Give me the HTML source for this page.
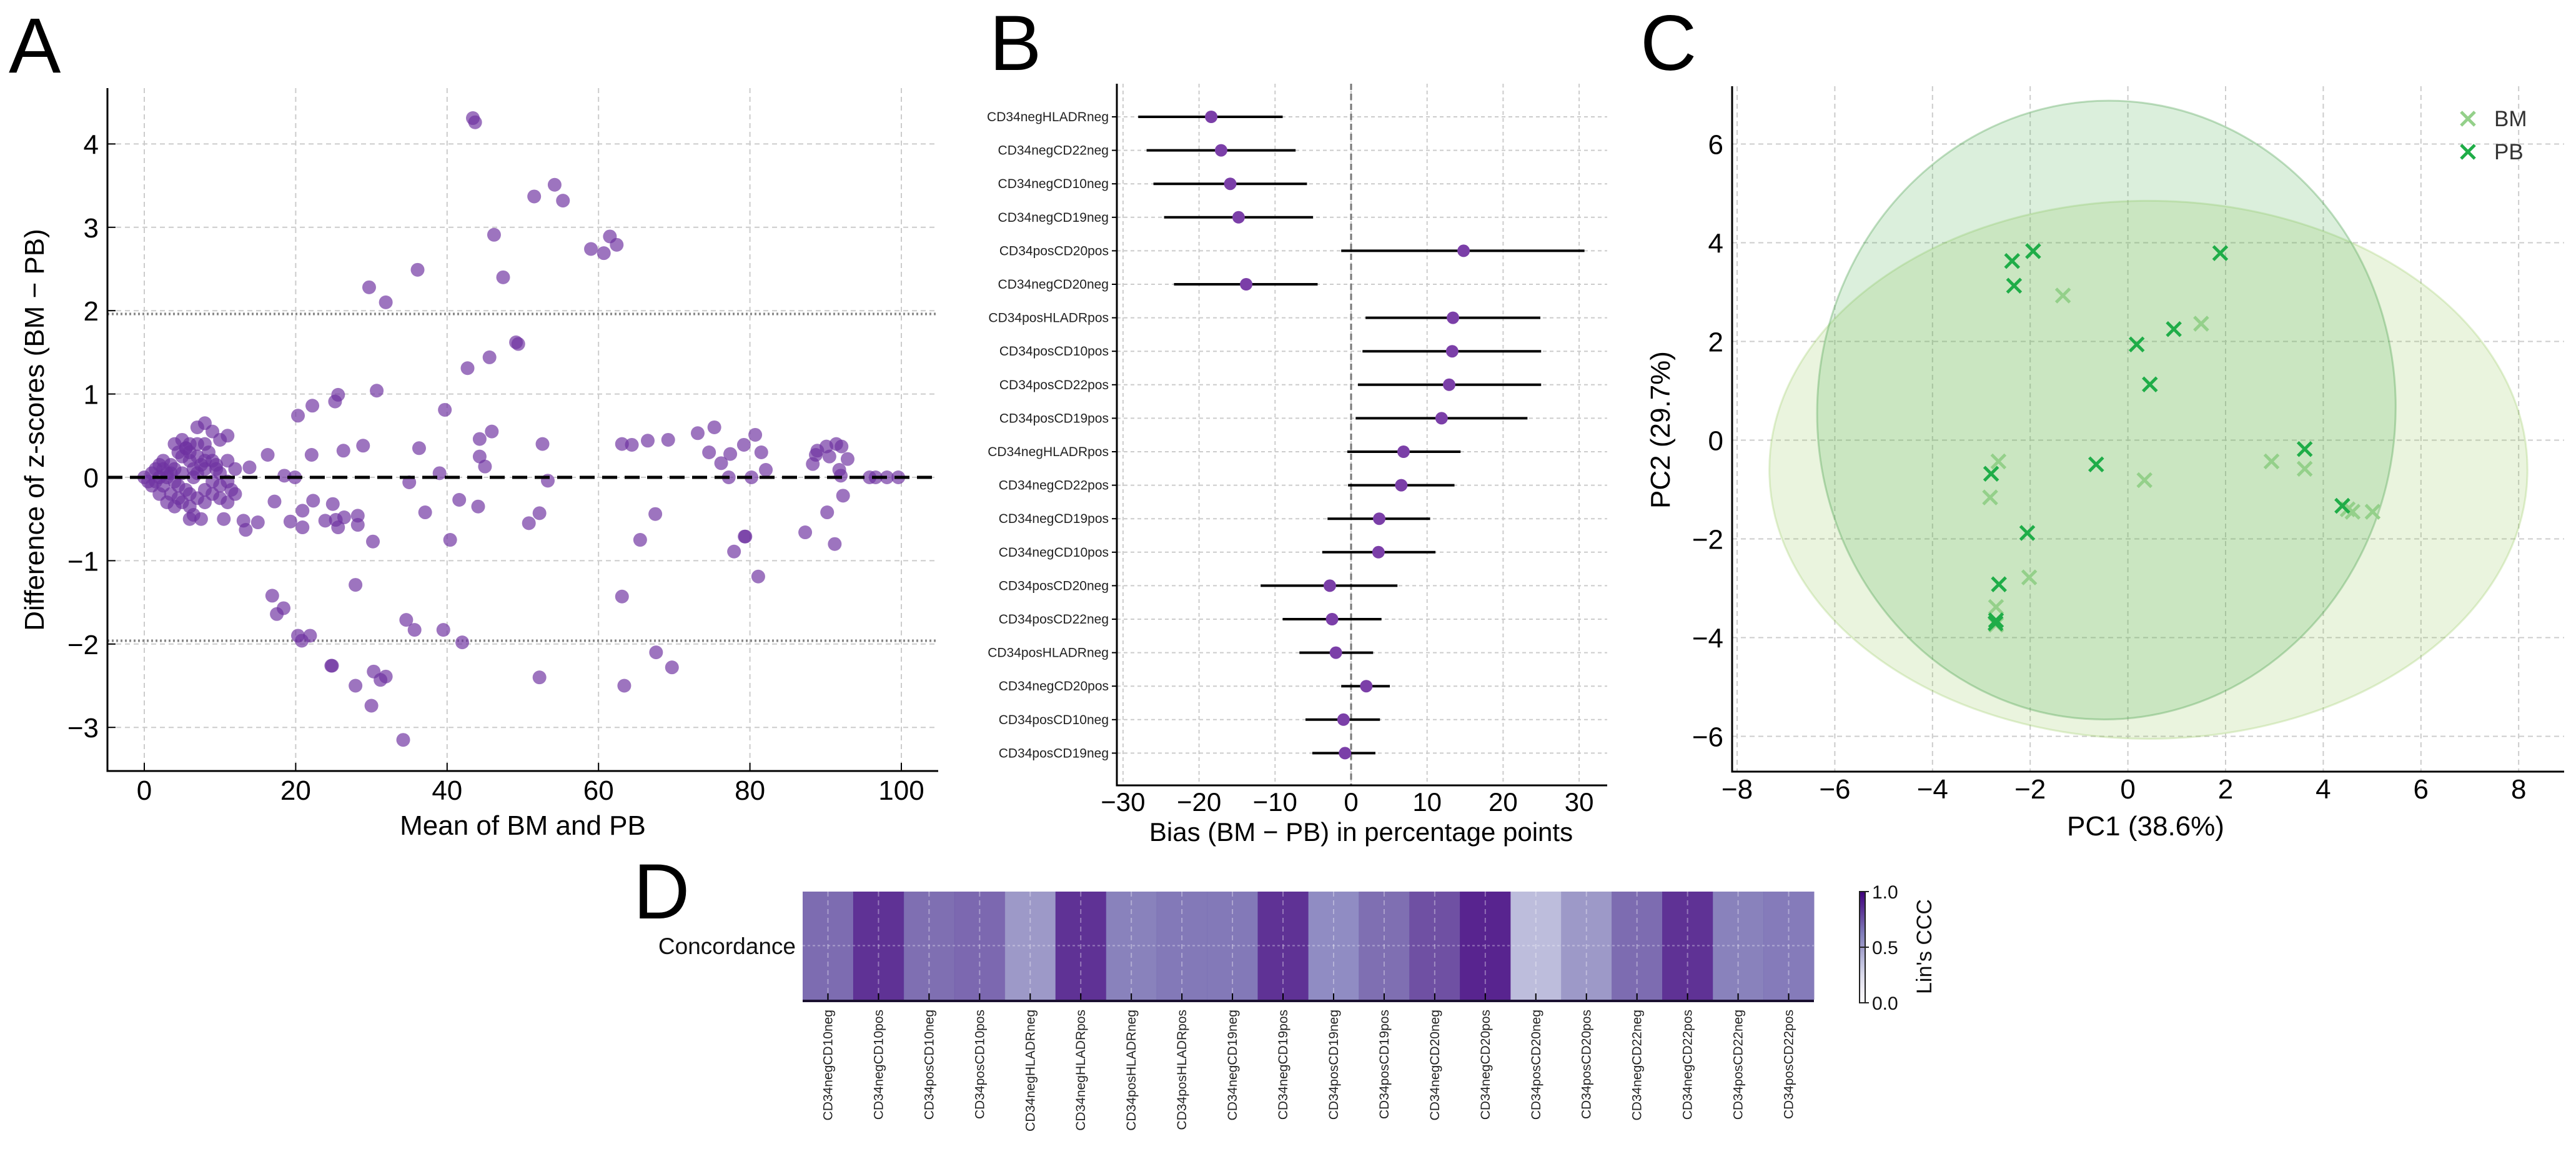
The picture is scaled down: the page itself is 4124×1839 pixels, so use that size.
<!DOCTYPE html>
<html><head><meta charset="utf-8"><style>
html,body{margin:0;padding:0;background:#fff;}
svg{display:block;font-family:"Liberation Sans",sans-serif;}
</style></head><body>
<svg id="fig" width="4124" height="1839" viewBox="0 0 4124 1839" xmlns="http://www.w3.org/2000/svg">
<rect width="4124" height="1839" fill="#fff"/>
<text x="14" y="116" font-size="125" font-family="Liberation Sans Narrow, Liberation Sans, sans-serif">A</text>
<text x="1584" y="112" font-size="125" font-family="Liberation Sans Narrow, Liberation Sans, sans-serif">B</text>
<text x="2626" y="112" font-size="125" font-family="Liberation Sans Narrow, Liberation Sans, sans-serif">C</text>
<text x="1014" y="1470" font-size="125" font-family="Liberation Sans Narrow, Liberation Sans, sans-serif">D</text>
<g id="pa"></g>
<g id="pb"></g>
<g id="pc"></g>
<g id="pd"></g>
</svg>
<script>
// ---------- Panel A data ----------
const aMeans = [43.4,43.7,51.5,54.2,55.3,46.2,59.0,60.7,61.5,62.4,36.1,47.4,29.7,31.9,49.1,49.4,45.6,42.7,30.7,25.6,25.2,22.2,20.3,39.7,45.9,44.3,52.6,28.9,26.3,36.3,22.1,16.3,13.9,44.3,45.0,18.5,19.9,39.0,35.0,53.3,63.1,64.4,66.5,69.2,73.1,75.3,74.6,76.2,77.4,79.2,80.7,81.5,82.1,77.2,80.2,88.3,88.7,88.9,90.1,90.5,91.4,92.1,92.9,91.8,92.0,95.8,96.6,98.1,99.6,17.2,19.3,20.9,20.9,22.3,23.9,24.9,25.3,25.6,26.4,28.2,28.2,30.2,13.1,13.4,15.0,37.1,40.4,41.6,44.1,50.8,52.2,65.5,67.5,79.3,79.4,77.9,81.1,87.3,90.2,91.2,92.3,16.9,17.5,18.4,27.9,20.3,20.8,21.9,24.7,24.8,34.6,35.7,39.5,42.0,27.9,30.3,31.2,31.9,30.0,34.2,52.2,63.1,63.4,67.6,69.7,
0,0.5,1,1.5,2,2.5,3,1,2,3,4,5,6,3.5,4.5,2.5,3.5,4,5,5.5,6,7,8,9,10,11,8.5,7,7.5,8,9,6.5,5,4.5,6,7,8,9,10,11,11.5,12,11,10,9.5,7,8,6,7.5,6.5,10.5,11,12,10,9,7,8,6,5.5,4,2,1.5,3,4,5,6,2.5,3.5,4.5,5.5,6.5,8,9.5];
const aDiffs = [4.31,4.26,3.37,3.51,3.32,2.91,2.74,2.69,2.89,2.79,2.49,2.40,2.28,2.10,1.62,1.60,1.44,1.31,1.04,0.99,0.91,0.86,0.74,0.81,0.55,0.46,0.40,0.38,0.32,0.35,0.27,0.27,0.12,0.25,0.13,0.02,0.0,0.05,-0.06,-0.04,0.40,0.39,0.44,0.45,0.53,0.60,0.30,0.17,0.28,0.39,0.51,0.30,0.09,0.0,0.0,0.16,0.27,0.32,0.37,0.25,0.40,0.37,0.22,0.09,0.02,0,0,0,0,-0.29,-0.53,-0.40,-0.60,-0.28,-0.52,-0.32,-0.51,-0.60,-0.48,-0.46,-0.57,-0.77,-0.52,-0.63,-0.54,-0.42,-0.75,-0.27,-0.35,-0.55,-0.43,-0.75,-0.44,-0.71,-0.71,-0.89,-1.19,-0.66,-0.42,-0.80,-0.22,-1.42,-1.64,-1.57,-1.29,-1.90,-1.96,-1.90,-2.26,-2.26,-1.71,-1.83,-1.83,-1.98,-2.50,-2.33,-2.43,-2.39,-2.74,-3.15,-2.40,-1.43,-2.50,-2.10,-2.28,
0,-0.05,0.05,0.1,0.15,0.1,0.05,-0.1,-0.2,-0.3,-0.35,-0.3,-0.35,-0.2,-0.1,0.2,0.15,0.4,0.45,0.35,0.4,0.6,0.65,0.55,0.45,0.5,0.3,0.25,0.15,0.1,0.2,0.1,0.25,0.3,-0.2,-0.25,-0.15,-0.2,-0.25,-0.3,-0.15,0.1,0.2,0.05,0.1,0.05,0.2,-0.5,-0.5,-0.45,-0.5,-0.05,-0.2,-0.1,-0.05,0.4,0.4,0.2,-0.15,-0.05,0.0,-0.05,0.0,0.1,0.05,0.3,-0.1,0.05,-0.25,0.35,0.0,-0.3,0.15];
const aXTicks = [0,20,40,60,80,100];
const aYTicks = [-3,-2,-1,0,1,2,3,4];
const aLoA = [1.96,-1.96];

// ---------- Panel B data ----------
const bLabels = ["CD34negHLADRneg","CD34negCD22neg","CD34negCD10neg","CD34negCD19neg","CD34posCD20pos","CD34negCD20neg","CD34posHLADRpos","CD34posCD10pos","CD34posCD22pos","CD34posCD19pos","CD34negHLADRpos","CD34negCD22pos","CD34negCD19pos","CD34negCD10pos","CD34posCD20neg","CD34posCD22neg","CD34posHLADRneg","CD34negCD20pos","CD34posCD10neg","CD34posCD19neg"];
const bBias = [-18.4,-17.1,-15.9,-14.8,14.8,-13.8,13.4,13.3,12.9,11.9,6.9,6.6,3.7,3.6,-2.8,-2.5,-2.0,2.0,-1.0,-0.8];
const bLow  = [-28.0,-26.9,-26.0,-24.6,-1.3,-23.3,1.9,1.5,0.9,0.6,-0.5,-0.4,-3.1,-3.8,-11.9,-9.0,-6.8,-1.3,-6.0,-5.1];
const bHigh = [-9.0,-7.3,-5.8,-5.0,30.7,-4.4,24.9,25.0,25.0,23.2,14.4,13.6,10.4,11.1,6.1,4.0,2.9,5.1,3.8,3.2];
const bXTicks = [-30,-20,-10,0,10,20,30];

// ---------- Panel C data ----------
const pbX = [-2.37,-1.94,-2.33,1.89,0.94,0.18,0.45,-0.65,3.62,-2.80,-2.06,4.39,-2.64,-2.71,-2.70];
const pbY = [3.63,3.83,3.13,3.79,2.25,1.94,1.13,-0.49,-0.18,-0.68,-1.88,-1.33,-2.92,-3.71,-3.65];
const bmX = [-1.33,1.50,-2.65,-2.82,0.34,2.94,3.62,4.60,5.01,4.50,-2.02,-2.70,-2.70];
const bmY = [2.93,2.36,-0.43,-1.16,-0.81,-0.43,-0.58,-1.45,-1.45,-1.40,-2.78,-3.38,-3.74];
const cXTicks = [-8,-6,-4,-2,0,2,4,6,8];
const cYTicks = [-6,-4,-2,0,2,4,6];
// ellipse params: [cx, cy, rx, ry, rotationDeg]
const pbEllipse = [-0.44,0.61,5.92,6.27,4];
const bmEllipse = [0.42,-0.60,7.76,5.45,0];

// ---------- Panel D data ----------
const dLabels = ["CD34negCD10neg","CD34negCD10pos","CD34posCD10neg","CD34posCD10pos","CD34negHLADRneg","CD34negHLADRpos","CD34posHLADRneg","CD34posHLADRpos","CD34negCD19neg","CD34negCD19pos","CD34posCD19neg","CD34posCD19pos","CD34negCD20neg","CD34negCD20pos","CD34posCD20neg","CD34posCD20pos","CD34negCD22neg","CD34negCD22pos","CD34posCD22neg","CD34posCD22pos"];
const dCCC = [0.72,0.91,0.71,0.73,0.55,0.91,0.65,0.68,0.68,0.91,0.61,0.71,0.81,0.96,0.40,0.55,0.72,0.91,0.65,0.67];
const dCbTicks = [0.0,0.5,1.0];

const NS='http://www.w3.org/2000/svg';
function mk(tag, attrs, parent){const e=document.createElementNS(NS,tag);for(const k in attrs)e.setAttribute(k,attrs[k]);parent.appendChild(e);return e;}
function txt(s, attrs, parent){const e=mk('text',attrs,parent);e.textContent=s;return e;}

// ===== Panel A =====
(function(){
  const g=document.getElementById('pa');
  const L=172,R=1502,T=141,B=1234;
  const xA=v=>231+v*12.12, yA=v=>764-v*133.4;
  aXTicks.forEach(t=>{
    const gl=mk('line',{x1:xA(t),x2:xA(t),y1:T,y2:B,stroke:'#ccc','stroke-width':2,'stroke-dasharray':'8,6'},g);
    
    
    const tk=mk('line',{x1:xA(t),x2:xA(t),y1:B,y2:B-13,stroke:'#000','stroke-width':2},g);
    
    
    const lb=txt(String(t),{x:xA(t),y:1280,'font-size':44,'text-anchor':'middle'},g);
    
    
  });
  aYTicks.forEach(t=>{
    const gl=mk('line',{x1:L,x2:R,y1:yA(t),y2:yA(t),stroke:'#ccc','stroke-width':2,'stroke-dasharray':'8,6'},g);
    
    
    const tk=mk('line',{x1:L,x2:L+13,y1:yA(t),y2:yA(t),stroke:'#000','stroke-width':2},g);
    
    
    const lb=txt((t<0?'\u2212':'')+Math.abs(t),{x:158,y:yA(t)+16,'font-size':44,'text-anchor':'end'},g);
    
    
  });
  aLoA.forEach(v=>{
    const l=mk('line',{x1:L,x2:R,y1:yA(v),y2:yA(v),stroke:'#888','stroke-width':4,'stroke-dasharray':'3,4'},g);
    
    
  });
  for(let i=0;i<aMeans.length;i++){
    const c=mk('circle',{cx:xA(aMeans[i]),cy:yA(aDiffs[i]),r:11,fill:'rgba(110,50,160,0.68)'},g);
    
    
  }
  const z=mk('line',{x1:L,x2:R,y1:yA(0),y2:yA(0),stroke:'#000','stroke-width':5,'stroke-dasharray':'24,12'},g);
  
  
  const sp=mk('path',{d:`M${L},${T}V${B}H${R}`,fill:'none',stroke:'#000','stroke-width':3},g);
  
  
  const xl=txt('Mean of BM and PB',{x:837,y:1336,'font-size':44,'text-anchor':'middle'},g);
  
  
  const yl=txt('Difference of z-scores (BM \u2212 PB)',{x:0,y:0,'font-size':44,'text-anchor':'middle',transform:'translate(70,688) rotate(-90)'},g);
  
  
})();

// ===== Panel B =====
(function(){
  const g=document.getElementById('pb');
  const L=1788,R=2573,T=134,B=1257;
  const xB=v=>2163+v*12.17, yB=i=>187+i*53.6;
  bXTicks.forEach(t=>{
    const gl=mk('line',{x1:xB(t),x2:xB(t),y1:T,y2:B,stroke:'#ccc','stroke-width':2,'stroke-dasharray':'6,5'},g);
    
    
    const lb=txt((t<0?'\u2212':'')+Math.abs(t),{x:xB(t),y:1298,'font-size':42,'text-anchor':'middle'},g);
    
    
  });
  bLabels.forEach((s,i)=>{
    const gl=mk('line',{x1:L,x2:R,y1:yB(i),y2:yB(i),stroke:'#ccc','stroke-width':2,'stroke-dasharray':'6,5'},g);
    
    
    const tk=mk('line',{x1:L-8,x2:L,y1:yB(i),y2:yB(i),stroke:'#000','stroke-width':2},g);
    
    
    const lb=txt(s,{x:1775,y:yB(i)+7,'font-size':21,'text-anchor':'end',fill:'#222'},g);
    
    
  });
  const zl=mk('line',{x1:xB(0),x2:xB(0),y1:T,y2:B,stroke:'#777','stroke-width':3,'stroke-dasharray':'10,6'},g);
  
  
  bLabels.forEach((s,i)=>{
    const e=mk('line',{x1:xB(bLow[i]),x2:xB(bHigh[i]),y1:yB(i),y2:yB(i),stroke:'#000','stroke-width':4},g);
    
    
    const c=mk('circle',{cx:xB(bBias[i]),cy:yB(i),r:10,fill:'#7b3fa8'},g);
    
    
  });
  const sp=mk('path',{d:`M${L},${T}V${B}H${R}`,fill:'none',stroke:'#000','stroke-width':3},g);
  
  
  const xl=txt('Bias (BM \u2212 PB) in percentage points',{x:2179,y:1346,'font-size':42,'text-anchor':'middle'},g);
  
  
})();

// ===== Panel C =====
(function(){
  const g=document.getElementById('pc');
  const L=2773,R=4105,T=138,B=1235;
  const xC=v=>3406.6+v*78.2, yC=v=>704.5-v*79;
  cXTicks.forEach(t=>{
    const gl=mk('line',{x1:xC(t),x2:xC(t),y1:T,y2:B,stroke:'#ccc','stroke-width':2,'stroke-dasharray':'8,6'},g);
    
    
    const lb=txt((t<0?'\u2212':'')+Math.abs(t),{x:xC(t),y:1278,'font-size':44,'text-anchor':'middle'},g);
    
    
  });
  cYTicks.forEach(t=>{
    const gl=mk('line',{x1:L,x2:R,y1:yC(t),y2:yC(t),stroke:'#ccc','stroke-width':2,'stroke-dasharray':'8,6'},g);
    
    
    const lb=txt((t<0?'\u2212':'')+Math.abs(t),{x:2759,y:yC(t)+16,'font-size':44,'text-anchor':'end'},g);
    
    
  });
  function ell(p,fill,stroke,name){
    const e=mk('ellipse',{cx:xC(p[0]),cy:yC(p[1]),rx:p[2]*78.2,ry:p[3]*79,fill:fill,stroke:stroke,'stroke-width':3,transform:`rotate(${p[4]} ${xC(p[0])} ${yC(p[1])})`},g);
    return e;
  }
  const e1=ell(bmEllipse,'rgba(139,195,74,0.18)','rgba(139,195,74,0.25)');
  
  
  const e2=ell(pbEllipse,'rgba(76,175,80,0.2)','rgba(76,160,80,0.35)');
  
  
  function cross(x,y,col){
    const s=11;
    return mk('path',{d:`M${x-s},${y-s}L${x+s},${y+s}M${x-s},${y+s}L${x+s},${y-s}`,stroke:col,'stroke-width':5,fill:'none'},g);
  }
  for(let i=0;i<bmX.length;i++){
    const m=cross(xC(bmX[i]),yC(bmY[i]),'#94d08a');
    
    
  }
  for(let i=0;i<pbX.length;i++){
    const m=cross(xC(pbX[i]),yC(pbY[i]),'#1fad48');
    
    
  }
  const lm1=cross(3951,190,'#94d08a');
  
  
  const lt1=txt('BM',{x:3993,y:202,'font-size':35,fill:'#333'},g);
  
  
  const lm2=cross(3951,243,'#1fad48');
  
  
  const lt2=txt('PB',{x:3993,y:255,'font-size':35,fill:'#333'},g);
  
  
  const sp=mk('path',{d:`M${L},${T}V${B}H${R}`,fill:'none',stroke:'#000','stroke-width':3},g);
  
  
  const xl=txt('PC1 (38.6%)',{x:3435,y:1337,'font-size':44,'text-anchor':'middle'},g);
  
  
  const yl=txt('PC2 (29.7%)',{x:0,y:0,'font-size':44,'text-anchor':'middle',transform:'translate(2673,688) rotate(-90)'},g);
  
  
})();

// ===== Panel D =====
(function(){
  const g=document.getElementById('pd');
  const L=1285,R=2904,T=1427,B=1600;
  const cw=(R-L)/dLabels.length;
  const stops=[[252,251,253],[239,237,245],[218,218,235],[188,189,220],[158,154,200],[128,125,186],[106,81,163],[84,39,143],[63,0,125]];
  function purples(v){
    const p=Math.max(0,Math.min(1,v))*8, i=Math.min(7,Math.floor(p)), f=p-i;
    const a=stops[i], b=stops[i+1];
    return `rgb(${Math.round(a[0]+(b[0]-a[0])*f)},${Math.round(a[1]+(b[1]-a[1])*f)},${Math.round(a[2]+(b[2]-a[2])*f)})`;
  }
  dLabels.forEach((s,i)=>{
    const r=mk('rect',{x:L+i*cw,y:T,width:cw+0.5,height:B-T,fill:purples(dCCC[i]),'fill-opacity':0.9},g);
    
    
  });
  dLabels.forEach((s,i)=>{
    const cx=L+(i+0.5)*cw;
    const gl=mk('line',{x1:cx,x2:cx,y1:T,y2:B,stroke:'rgba(255,255,255,0.35)','stroke-width':2,'stroke-dasharray':'8,6'},g);
    
    
    const tk=mk('line',{x1:cx,x2:cx,y1:B,y2:B-10,stroke:'#000','stroke-width':2},g);
    
    
    const lb=txt(s,{x:0,y:0,'font-size':21,'text-anchor':'end',fill:'#222',transform:`translate(${cx+7},1616) rotate(-90)`},g);
    
    
  });
  const hl=mk('line',{x1:L,x2:R,y1:(T+B)/2,y2:(T+B)/2,stroke:'rgba(255,255,255,0.35)','stroke-width':2,'stroke-dasharray':'4,4'},g);
  
  
  const bl=mk('line',{x1:L,x2:R,y1:B+2,y2:B+2,stroke:'#1a1030','stroke-width':4},g);
  
  
  const rl=txt('Concordance',{x:1274,y:1527,'font-size':37,'text-anchor':'end',fill:'#111'},g);
  
  
  // colorbar
  const defs=mk('defs',{},g);
  const lg=mk('linearGradient',{id:'cbg',x1:0,y1:1,x2:0,y2:0},defs);
  for(let k=0;k<=8;k++){mk('stop',{offset:k/8,'stop-color':purples(k/8)},lg);}
  const cbT=1427,cbB=1605;
  const cb=mk('rect',{x:2977,y:cbT,width:9,height:cbB-cbT,fill:'url(#cbg)',stroke:'#222','stroke-width':2},g);
  
  
  dCbTicks.forEach(t=>{
    const y=cbB-(cbB-cbT)*t;
    const tk=mk('line',{x1:2977,x2:2992,y1:y,y2:y,stroke:'#222','stroke-width':2},g);
    
    
    const lb=txt(t.toFixed(1),{x:2997,y:y+11,'font-size':30,fill:'#111'},g);
    
    
  });
  const ct=txt("Lin's CCC",{x:0,y:0,'font-size':34,'text-anchor':'middle',fill:'#111',transform:'translate(3092,1515) rotate(-90)'},g);
  
  
})();
</script>
</body></html>
